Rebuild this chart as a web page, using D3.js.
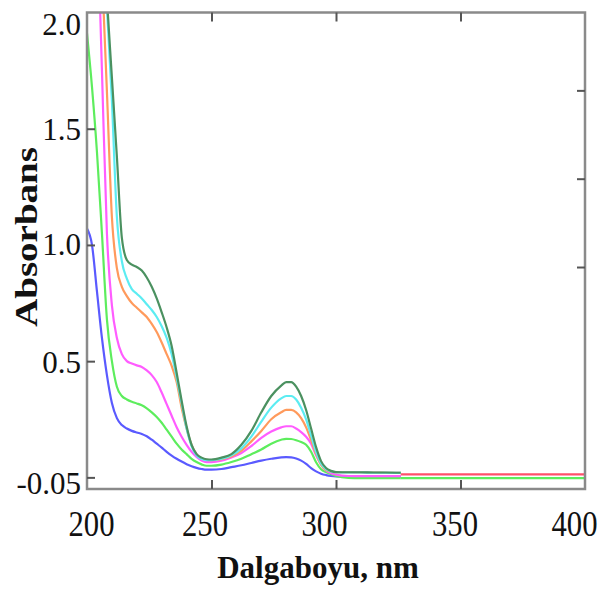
<!DOCTYPE html>
<html>
<head>
<meta charset="utf-8">
<script src="https://cdn.jsdelivr.net/npm/d3@7"></script>
<style>
  body { margin: 0; background: #fff; }
  svg { display: block; }
  .tick text { font-family: "Liberation Serif", "Times New Roman", serif; fill: #111; }
  .title { font-family: "Liberation Serif", "Times New Roman", serif; font-weight: bold; fill: #111; }
</style>
</head>
<body>
<div id="vis"></div>
<script>
// wavelengths (nm) shared by the six spectra
var wl = [200,202,204,206,208,210,212,214,216,218,220,222,224,226,228,230,232,234,236,238,240,242,244,246,248,250,
          254,258,262,266,270,274,278,
          280,282,284,286,288,290,292,294,296,298,300,
          305,310,315,320,326];

var blue = [1.07,1.0,0.8,0.6,0.44,0.32,0.255,0.225,0.21,0.2,0.193,0.187,0.177,0.162,0.145,0.128,0.11,0.094,0.08,0.068,0.057,0.048,0.041,0.036,0.033,0.033,
            0.036,0.044,0.052,0.062,0.072,0.08,0.086,
            0.087,0.086,0.081,0.072,0.058,0.04,0.026,0.016,0.01,0.006,0.004,
            0.003,0.003,0.003,0.003,0.003];
var green = [1.91,1.68,1.4,1.05,0.68,0.5,0.39,0.35,0.335,0.325,0.318,0.31,0.297,0.28,0.26,0.235,0.205,0.175,0.145,0.12,0.1,0.08,0.066,0.056,0.05,0.05,
             0.055,0.066,0.08,0.1,0.12,0.145,0.162,
             0.166,0.165,0.16,0.152,0.14,0.11,0.065,0.035,0.022,0.014,0.006,
             -0.002,-0.003,-0.003,-0.003,-0.003];
var magenta = [3.8,3.0,2.45,1.75,1.05,0.74,0.6,0.53,0.5,0.49,0.482,0.475,0.46,0.44,0.41,0.365,0.315,0.265,0.216,0.175,0.14,0.11,0.088,0.073,0.066,0.066,
               0.072,0.086,0.105,0.135,0.17,0.197,0.215,
               0.22,0.22,0.21,0.195,0.175,0.145,0.095,0.055,0.03,0.018,0.012,
               0.006,0.005,0.005,0.005,0.005];
var orange = [3.9,3.3,2.7,2.18,1.66,1.12,0.9,0.82,0.78,0.75,0.73,0.71,0.69,0.66,0.625,0.58,0.53,0.48,0.41,0.3,0.21,0.14,0.1,0.082,0.075,0.074,
              0.078,0.09,0.115,0.155,0.2,0.25,0.28,
              0.29,0.29,0.28,0.255,0.215,0.16,0.1,0.055,0.032,0.025,0.022,
              0.022,0.021,0.021,0.02,0.02];
var cyan = [3.8,3.3,2.8,2.4,2.02,1.62,1.12,0.93,0.855,0.81,0.79,0.77,0.745,0.72,0.69,0.65,0.6,0.53,0.43,0.32,0.21,0.135,0.095,0.08,0.074,0.074,
            0.08,0.095,0.125,0.175,0.24,0.3,0.34,
            0.35,0.35,0.335,0.3,0.25,0.18,0.11,0.06,0.035,0.026,0.022,
            0.021,0.021,0.02,0.02,0.019];
var dkgreen = [4.0,3.6,3.0,2.45,2.06,1.72,1.38,1.03,0.935,0.915,0.905,0.89,0.86,0.82,0.77,0.71,0.645,0.565,0.45,0.33,0.22,0.14,0.1,0.085,0.078,0.077,
               0.085,0.1,0.14,0.2,0.28,0.35,0.395,
               0.41,0.41,0.39,0.35,0.29,0.21,0.13,0.07,0.04,0.028,0.023,
               0.022,0.022,0.021,0.021,0.02];

// flat baselines past 326 nm
var wlTail = [326,340,360,380,400];
var greenTail = [-0.003,-0.003,-0.003,-0.003,-0.003];
var redTail = [0.013,0.013,0.013,0.013,0.013];

var xTicks = [200,250,300,350,400];
var yTicks = [0,0.5,1.0,1.5,2.0];
var yTickLabels = ["-0.05","0.5","1.0","1.5","2.0"];
var rightTicks = [0.905,1.285,1.665];

var W = 604, H = 589;
var pL = 87, pR = 585, pT = 12.5, pB = 489;

var svg = d3.select("#vis").append("svg").attr("width", W).attr("height", H);

var x = d3.scaleLinear().domain([200,400]).range([pL,pR]);
var y = d3.scaleLinear().domain([-0.05,2.0]).range([pB,pT]);

svg.append("clipPath").attr("id","clip")
  .append("rect").attr("x",pL).attr("y",pT).attr("width",pR-pL).attr("height",pB-pT);

var line = d3.line().x(function(d){ return x(d[0]); }).y(function(d){ return y(d[1]); })
  .curve(d3.curveMonotoneX);

var series = [
  {c:"#5a5aff", w:wl, v:blue},
  {c:"#5ded5d", w:wl, v:green},
  {c:"#ff5cff", w:wl, v:magenta},
  {c:"#ff9a5c", w:wl, v:orange},
  {c:"#5cecf2", w:wl, v:cyan},
  {c:"#4b9160", w:wl, v:dkgreen},
  {c:"#5ded5d", w:wlTail, v:greenTail},
  {c:"#ff4f6a", w:wlTail, v:redTail}
];

var g = svg.append("g").attr("clip-path","url(#clip)");
g.selectAll("path").data(series).enter().append("path")
  .attr("fill","none")
  .attr("stroke", function(d){ return d.c; })
  .attr("stroke-width", 2.2)
  .attr("d", function(d){ return line(d.w.map(function(w,i){ return [w, d.v[i]]; })); });

// frame
svg.append("rect").attr("x",pL).attr("y",pT).attr("width",pR-pL).attr("height",pB-pT)
  .attr("fill","none").attr("stroke","#8a8a8a").attr("stroke-width",2.5);

// axes with inward ticks
var xNudge = [4,-7,-12,-6,-11];
var bx = svg.append("g").attr("transform","translate(0,"+pB+")")
  .call(d3.axisBottom(x).tickValues(xTicks).tickSizeInner(-9).tickSizeOuter(0).tickFormat(d3.format("d")));
bx.select(".domain").remove();
bx.selectAll(".tick line").attr("stroke","#555").attr("stroke-width",2);
bx.selectAll(".tick text")
  .attr("font-size",35).attr("dy",null).attr("y",47)
  .attr("x", function(d,i){ return xNudge[i]; })
  .attr("textLength",46).attr("lengthAdjust","spacingAndGlyphs");
bx.selectAll(".tick").filter(function(d){ return d===200 || d===400; }).select("line").remove();

var tx = svg.append("g").attr("transform","translate(0,"+pT+")")
  .call(d3.axisTop(x).tickValues([250,300,350]).tickSizeInner(-9).tickSizeOuter(0).tickFormat(""));
tx.select(".domain").remove();
tx.selectAll(".tick line").attr("stroke","#555").attr("stroke-width",2);

var yNudge = [6,1,0,1,12];
var ly = svg.append("g").attr("transform","translate("+pL+",0)")
  .call(d3.axisLeft(y).tickValues(yTicks).tickSizeInner(-8).tickSizeOuter(0)
    .tickFormat(function(d,i){ return yTickLabels[i]; }));
ly.select(".domain").remove();
ly.selectAll(".tick line").attr("stroke","#555").attr("stroke-width",2);
ly.selectAll(".tick").filter(function(d){ return d===2.0; }).select("line").remove();
ly.selectAll(".tick text")
  .attr("font-size",31).attr("x",-6)
  .attr("dy", function(d,i){ return (10 + yNudge[i]) + "px"; });

var ry = svg.append("g").attr("transform","translate("+pR+",0)")
  .call(d3.axisRight(y).tickValues(rightTicks).tickSizeInner(-8).tickSizeOuter(0).tickFormat(""));
ry.select(".domain").remove();
ry.selectAll(".tick line").attr("stroke","#555").attr("stroke-width",2);

// axis titles
svg.append("text").attr("class","title")
  .attr("transform","translate(37,237) rotate(-90)")
  .attr("text-anchor","middle").attr("font-size",32)
  .attr("textLength",180).attr("lengthAdjust","spacingAndGlyphs")
  .text("Absorbans");

svg.append("text").attr("class","title")
  .attr("x",318).attr("y",578)
  .attr("text-anchor","middle").attr("font-size",31)
  .text("Dalgaboyu, nm");
</script>
</body>
</html>
